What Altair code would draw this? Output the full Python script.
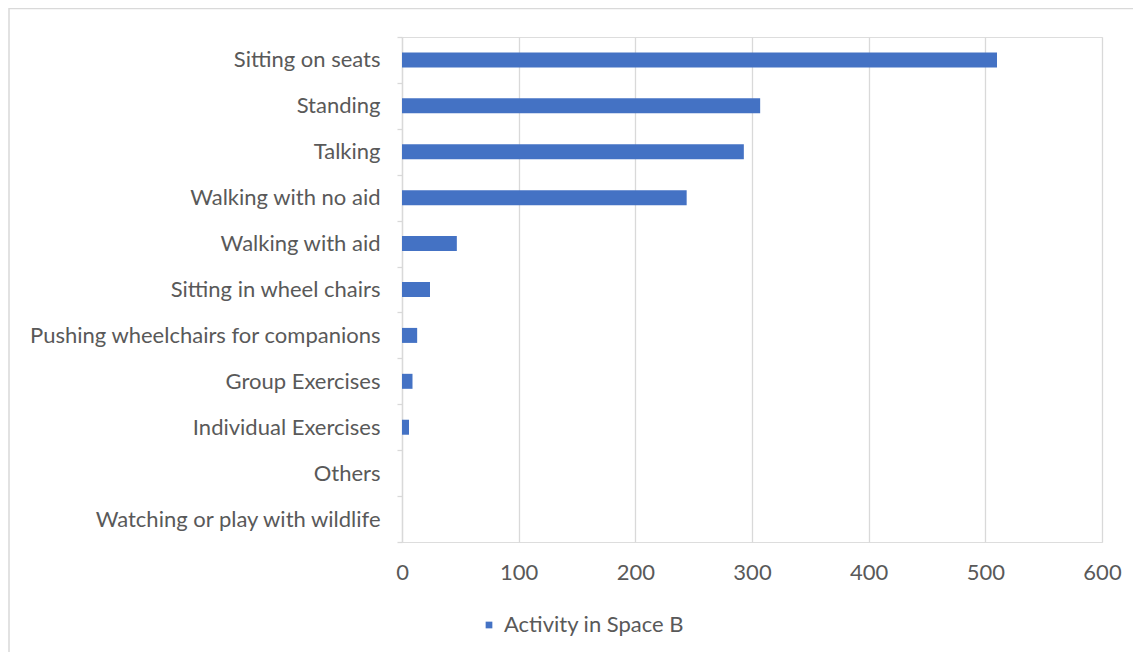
import altair as alt
import pandas as pd

categories = [
    "Sitting on seats",
    "Standing",
    "Talking",
    "Walking with no aid",
    "Walking with aid",
    "Sitting in wheel chairs",
    "Pushing wheelchairs for companions",
    "Group Exercises",
    "Individual Exercises",
    "Others",
    "Watching or play with wildlife",
]
values = [510, 307, 293, 244, 47, 24, 13, 9, 6, 0, 0]
series_name = "Activity in Space B"
x_ticks = [0, 100, 200, 300, 400, 500, 600]

df = pd.DataFrame({
    "activity": categories,
    "count": values,
    "series": [series_name] * len(categories),
})

FONT = "Lato"
TXT = "#595959"
GRID = "#d9d9d9"
BLUE = "#4472C4"
FS = 22

bars = alt.Chart(df).mark_bar(size=15).encode(
    x=alt.X(
        "count:Q",
        scale=alt.Scale(domain=[0, 600], nice=False),
        axis=alt.Axis(
            values=x_ticks, title=None, grid=True, gridColor=GRID, gridWidth=1.3,
            domain=False, ticks=False, labelPadding=20, labelFontSize=FS,
            labelColor=TXT, labelFont=FONT, labelFlush=False,
        ),
    ),
    y=alt.Y(
        "activity:N",
        sort=categories,
        scale=alt.Scale(paddingInner=0, paddingOuter=0),
        axis=alt.Axis(
            title=None, domainColor=GRID, domainWidth=1.3, tickColor=GRID,
            tickWidth=1.3, tickSize=5, tickBand="extent", labelPadding=17,
            labelFontSize=FS, labelColor=TXT, labelFont=FONT, labelLimit=500,
        ),
    ),
    color=alt.Color(
        "series:N",
        scale=alt.Scale(range=[BLUE]),
        legend=alt.Legend(
            title=None, orient="none", legendX=76, legendY=577,
            symbolType="square", symbolSize=45, labelFontSize=FS,
            labelFont=FONT, labelColor=TXT, symbolStrokeWidth=0,
            labelLimit=400,
        ),
    ),
)

frame = alt.Chart(pd.DataFrame({"k": [0]})).mark_rect(
    fill=None, stroke=GRID, strokeWidth=1.5
).encode(
    x=alt.value(-393), x2=alt.value(760),
    y=alt.value(-28.5), y2=alt.value(640),
)

chart = alt.layer(frame, bars).properties(
    width=700,
    height=505,
    autosize=alt.AutoSizeParams(type="none"),
    padding={"left": 394, "top": 29, "right": 31, "bottom": 110},
).configure_view(stroke=None).configure(background="white")

chart.save("out.html", embed_options={"renderer": "svg", "actions": False})
